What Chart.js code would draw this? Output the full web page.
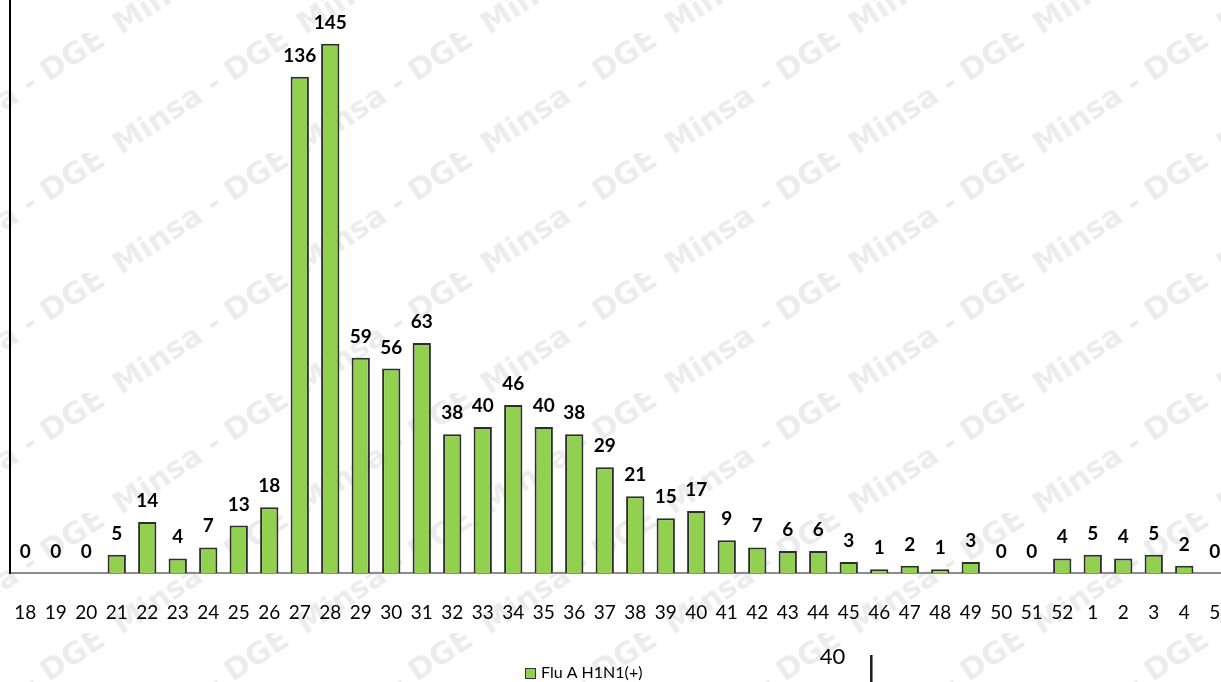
<!DOCTYPE html>
<html>
<head>
<meta charset="utf-8">
<script src="https://cdn.jsdelivr.net/npm/chart.js@4/dist/chart.umd.min.js"></script>
<style>
  html, body { margin: 0; padding: 0; background: #fff; overflow: hidden; }
  #wrap { width: 1221px; height: 682px; overflow: hidden; position: relative; }
  canvas { display: block; }
</style>
</head>
<body>
<div id="wrap"><canvas id="c" width="1232" height="682"></canvas></div>
<script>
const weeks = ['18','19','20','21','22','23','24','25','26','27','28','29','30','31','32','33','34','35','36','37','38','39','40','41','42','43','44','45','46','47','48','49','50','51','52','1','2','3','4','5'];
const fluAH1N1 = [0,0,0,5,14,4,7,13,18,136,145,59,56,63,38,40,46,40,38,29,21,15,17,9,7,6,6,3,1,2,1,3,0,0,4,5,4,5,2,0];
const seriesName = 'Flu A H1N1(+)';
const pageNumber = '40';
const watermarkText = 'Minsa - DGE';

const GREEN = '#92D050';
const FONT = 'Lato, "Open Sans", "DejaVu Sans", sans-serif';

const watermarkPlugin = {
  id: 'watermark',
  beforeDraw(chart) {
    const ctx = chart.ctx;
    const tw = 184, th = 120, x0 = 110 - 184, y0 = 33 - 120;
    const ang = -Math.atan2(th, tw);
    ctx.save();
    ctx.fillStyle = 'rgba(0,0,0,0.075)';
    ctx.font = 'bold 30px "DejaVu Sans", sans-serif';
    ctx.textAlign = 'center';
    ctx.textBaseline = 'middle';
    for (let ty = y0; ty < chart.height; ty += th) {
      for (let tx = x0; tx < chart.width; tx += tw) {
        ctx.save();
        ctx.beginPath();
        ctx.rect(tx, ty, tw, th);
        ctx.clip();
        ctx.translate(tx + tw / 2, ty + th / 2);
        ctx.rotate(ang);
        ctx.fillText(watermarkText, 0, 0);
        ctx.restore();
      }
    }
    ctx.restore();
  }
};

const labelsPlugin = {
  id: 'barLabels',
  afterDatasetsDraw(chart) {
    const ctx = chart.ctx;
    const meta = chart.getDatasetMeta(0);
    ctx.save();
    ctx.fillStyle = '#000';
    ctx.font = 'bold 19px ' + FONT;
    ctx.textAlign = 'center';
    ctx.textBaseline = 'alphabetic';
    meta.data.forEach((bar, i) => {
      ctx.fillText(String(fluAH1N1[i]), bar.x, bar.y - 15);
    });
    ctx.restore();
  },
  afterDraw(chart) {
    const ctx = chart.ctx;
    ctx.save();
    // legend
    ctx.fillStyle = GREEN;
    ctx.fillRect(525.5, 668.5, 10, 10);
    ctx.strokeStyle = '#333';
    ctx.lineWidth = 1;
    ctx.strokeRect(525.5, 668.5, 10, 10);
    ctx.fillStyle = '#000';
    ctx.font = '16px ' + FONT;
    ctx.textAlign = 'left';
    ctx.textBaseline = 'middle';
    ctx.fillText(seriesName, 541, 673);
    // page number
    ctx.font = '22px ' + FONT;
    ctx.textAlign = 'center';
    ctx.fillText(pageNumber, 832.5, 657);
    ctx.strokeStyle = '#1a1a1a';
    ctx.lineWidth = 2.5;
    ctx.beginPath();
    ctx.moveTo(871.3, 655);
    ctx.lineTo(871.3, 682);
    ctx.stroke();
    ctx.restore();
  }
};

new Chart(document.getElementById('c'), {
  type: 'bar',
  data: {
    labels: weeks,
    datasets: [{
      label: seriesName,
      data: fluAH1N1,
      backgroundColor: GREEN,
      borderColor: '#2e2e2e',
      borderWidth: 2,
      barPercentage: 0.6,
      categoryPercentage: 1.0
    }]
  },
  options: {
    responsive: false,
    devicePixelRatio: 1,
    animation: false,
    layout: { padding: { left: 0, right: 2, top: 0, bottom: 0 } },
    plugins: {
      legend: { display: false },
      tooltip: { enabled: false }
    },
    scales: {
      x: {
        grid: {
          display: true,
          drawOnChartArea: false,
          drawTicks: true,
          tickLength: 28,
          tickColor: 'rgba(0,0,0,0)',
          color: 'rgba(0,0,0,0)'
        },
        border: { display: true, color: '#8c8c8c', width: 2 },
        ticks: {
          color: '#000',
          font: { family: FONT, size: 19 },
          padding: 0,
          maxRotation: 0,
          autoSkip: false
        },
        afterFit(s) { s.height = 109; }
      },
      y: {
        min: 0,
        max: 157,
        grid: { display: false },
        border: { display: true, color: '#000', width: 2 },
        ticks: { display: false },
        afterFit(s) { s.width = 10; }
      }
    }
  },
  plugins: [watermarkPlugin, labelsPlugin]
});
</script>
</body>
</html>
